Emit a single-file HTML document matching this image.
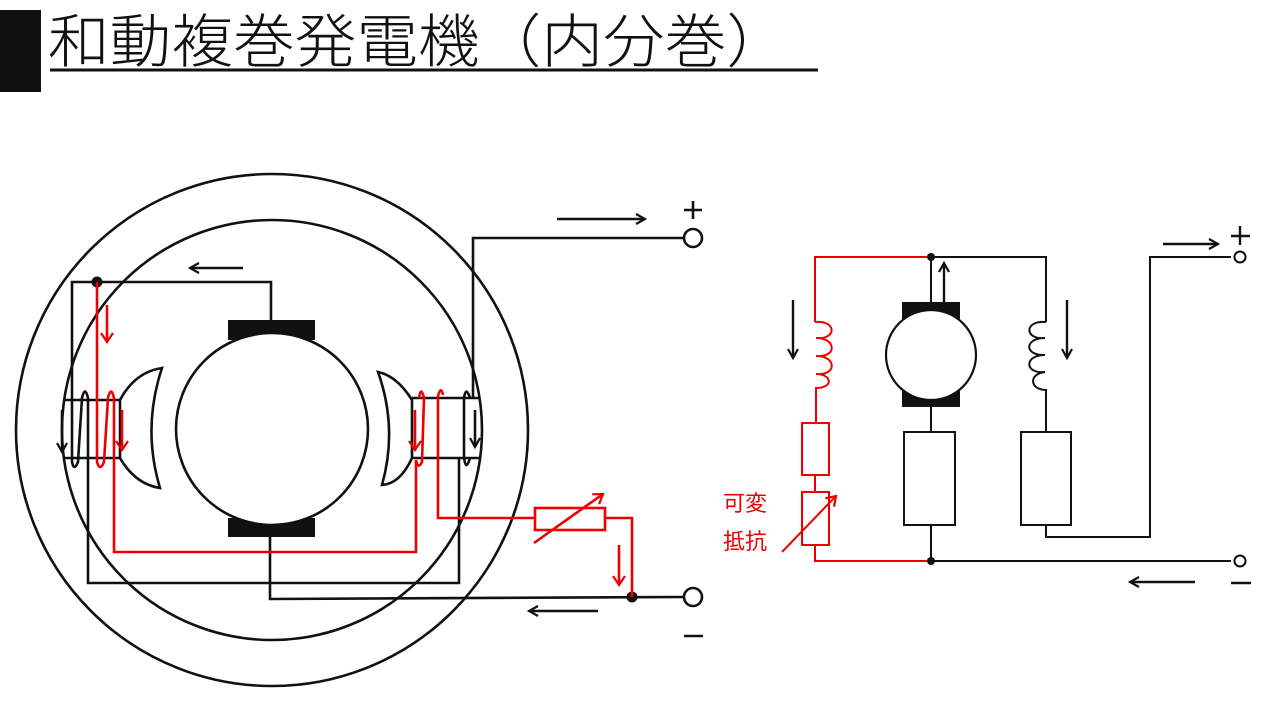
<!DOCTYPE html>
<html><head><meta charset="utf-8"><style>
html,body{margin:0;padding:0;background:#fff;width:1280px;height:720px;overflow:hidden}
</style></head><body>
<svg width="1280" height="720" viewBox="0 0 1280 720" xmlns="http://www.w3.org/2000/svg" font-family="'Liberation Sans','Noto Sans CJK JP',sans-serif">
<defs>
<marker id="ak" markerWidth="12" markerHeight="12" refX="10" refY="6" orient="auto" markerUnits="userSpaceOnUse"><path d="M1,1 L10,6 L1,11" fill="none" stroke="#111" stroke-width="2.2"/></marker>
<marker id="ar" markerWidth="12" markerHeight="14" refX="10" refY="7" orient="auto" markerUnits="userSpaceOnUse"><path d="M1,1 L10,7 L1,13" fill="none" stroke="#e00" stroke-width="2.2"/></marker>
</defs>
<rect x="0" y="10" width="41" height="82" fill="#111"/>
<text x="48" y="62" font-size="58" font-family="'Noto Sans CJK JP',sans-serif" font-weight="300" fill="#111" textLength="740" lengthAdjust="spacingAndGlyphs">和動複巻発電機（内分巻）</text>
<line x1="50" y1="70" x2="818" y2="70" stroke="#111" stroke-width="3"/>

<g fill="none" stroke="#111" stroke-width="2.6">
<circle cx="272" cy="430" r="256"/>
<circle cx="272" cy="430" r="210"/>
</g>
<rect x="228" y="320" width="87" height="20" fill="#111"/>
<rect x="228" y="518" width="87" height="19" fill="#111"/>
<circle cx="272" cy="429" r="96" fill="#fff" stroke="#111" stroke-width="2.6"/>
<g fill="#fff" stroke="#111" stroke-width="2.6">
<path d="M120,400 Q135,372 162,368 Q142,428 160,488 Q135,484 120,458 Z"/>
<path d="M412,400 Q397,376 378,372 Q398,428 382,485 Q400,484 412,458 Z"/>
</g>
<g fill="none" stroke="#111" stroke-width="2.6">
<path d="M63,400 H120 M63,458 H120"/>
<path d="M412,398 H480 M412,458 H480"/>
<path d="M271,320 V282 H72 V462 Q74,472 78,462 L82,398 Q85,385 88,398 V583 H459 V458"/>
<path d="M473,398 V238 H684"/>
<path d="M470,398 Q466,385 464,398 V458 Q466,472 470,458"/>
<path d="M270,537 V599 L684,597"/>
<circle cx="693" cy="238" r="9" fill="#fff"/>
<circle cx="693" cy="597" r="9" fill="#fff"/>
</g>
<circle cx="97" cy="282" r="5.5" fill="#111"/>
<circle cx="632" cy="597" r="5.5" fill="#111"/>
<g fill="none" stroke="#e00" stroke-width="2.6">
<path d="M97,282 V462 Q100,472 104,462 L108,398 Q111,385 114,398 V552 H416 V460"/>
<path d="M416,460 Q418,470 422,462 L424,398 Q421,385 419,398"/>
<path d="M443,395 Q441,385 438,396 V518 H535"/>
<rect x="535" y="508" width="70" height="22"/>
<path d="M605,518 H632 V597"/>
</g>
<line x1="534" y1="543" x2="603" y2="494" stroke="#e00" stroke-width="2.6" marker-end="url(#ar)"/>
<g stroke="#e00" stroke-width="2.6">
<line x1="107" y1="305" x2="107" y2="342" marker-end="url(#ar)"/>
<line x1="122" y1="410" x2="122" y2="450" marker-end="url(#ar)"/>
<line x1="415" y1="410" x2="415" y2="450" marker-end="url(#ar)"/>
<line x1="619" y1="545" x2="619" y2="585" marker-end="url(#ar)"/>
</g>
<g stroke="#111" stroke-width="2.6">
<line x1="243" y1="268" x2="190" y2="268" marker-end="url(#ak)"/>
<line x1="62" y1="410" x2="62" y2="452" marker-end="url(#ak)"/>
<line x1="475" y1="410" x2="475" y2="447" marker-end="url(#ak)"/>
<line x1="557" y1="219" x2="645" y2="219" marker-end="url(#ak)"/>
<line x1="598" y1="611" x2="529" y2="611" marker-end="url(#ak)"/>
</g>
<g stroke="#111" stroke-width="2.6"><path d="M684,210 H702 M693,201 V219 M684,636 H703"/></g>

<!-- right schematic -->
<g fill="none" stroke="#e00" stroke-width="2">
<path d="M931,257 H815 V322"/>
<path d="M815,322 C837,320 837,340 816,338 C837,338 837,358 816,356 C837,356 837,376 816,374 C832,374 834,388 816,388 V423"/>
<rect x="802" y="423" width="27" height="52"/>
<path d="M815,475 V492"/>
<rect x="802" y="492" width="27" height="53"/>
<path d="M815,545 V561 H931"/>
</g>
<line x1="782" y1="552" x2="836" y2="496" stroke="#e00" stroke-width="2" marker-end="url(#ar)"/>
<text x="723" y="511" font-size="22" fill="#e00">可変</text>
<text x="723" y="549" font-size="22" fill="#e00">抵抗</text>
<g fill="none" stroke="#111" stroke-width="2">
<path d="M931,257 H1046 V322"/>
<path d="M1046,322 C1024,320 1024,340 1045,338 C1024,338 1024,356 1045,355 C1024,355 1024,374 1045,372 C1028,374 1030,390 1046,390 V432"/>
<rect x="1021" y="432" width="50" height="93"/>
<path d="M1046,525 V537 H1150 V257 H1231"/>
<path d="M931,257 V302 M931,407 V432"/>
<rect x="904" y="432" width="51" height="93"/>
<path d="M931,525 V561 H1231"/>
<circle cx="1240" cy="257" r="5.5" fill="#fff"/>
<circle cx="1240" cy="561" r="5.5" fill="#fff"/>
</g>
<rect x="902" y="302" width="58" height="18" fill="#111"/>
<rect x="902" y="390" width="58" height="17" fill="#111"/>
<circle cx="931" cy="355" r="45" fill="#fff" stroke="#111" stroke-width="2.2"/>
<circle cx="931" cy="257" r="4" fill="#111"/>
<circle cx="931" cy="561" r="4" fill="#111"/>
<g stroke="#111" stroke-width="2.4">
<line x1="793" y1="300" x2="793" y2="358" marker-end="url(#ak)"/>
<line x1="944" y1="302" x2="944" y2="263" marker-end="url(#ak)"/>
<line x1="1067" y1="300" x2="1067" y2="358" marker-end="url(#ak)"/>
<line x1="1163" y1="244" x2="1218" y2="244" marker-end="url(#ak)"/>
<line x1="1195" y1="582" x2="1130" y2="582" marker-end="url(#ak)"/>
<path d="M1231,236 H1250 M1240,226 V245 M1231,583 H1251"/>
</g>
</svg>
</body></html>
